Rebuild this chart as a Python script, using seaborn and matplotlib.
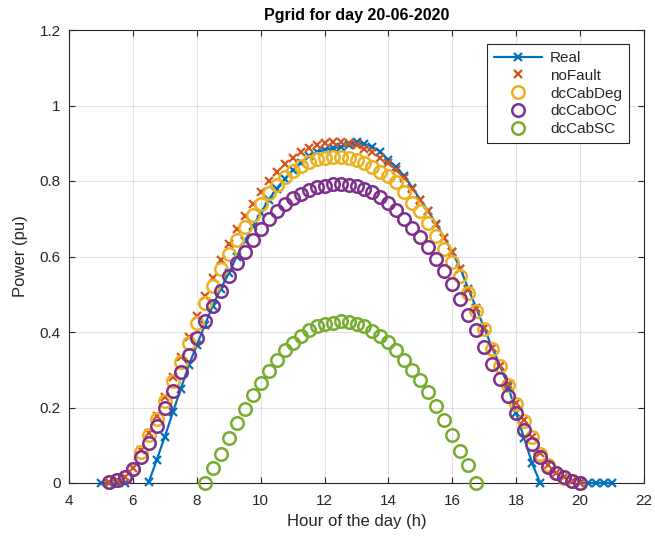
import numpy as np
import pandas as pd
import matplotlib
matplotlib.use("Agg")
import matplotlib.pyplot as plt
from matplotlib.lines import Line2D
import seaborn as sns

# ---------------- data ----------------
# Real (measured): three segments, 15-min samples
real_hours = [5.0, 5.25, 5.5, 5.75,
              6.5, 6.75, 7.0, 7.25, 7.5, 7.75, 8.0, 8.25, 8.5, 8.75,
              9.0, 9.25, 9.5, 9.75, 10.0, 10.25, 10.5, 10.75, 11.0, 11.25,
              11.5, 11.75, 12.0, 12.25, 12.5, 12.75, 13.0, 13.25, 13.5, 13.75,
              14.0, 14.25, 14.5, 14.75, 15.0, 15.25, 15.5, 15.75, 16.0, 16.25,
              16.5, 16.75, 17.0, 17.25, 17.5, 17.75, 18.0, 18.25, 18.5, 18.75,
              20.0, 20.25, 20.5, 20.75, 21.0]
real_power = [0.0, 0.0, 0.0, 0.0,
              0.003, 0.062, 0.123, 0.187, 0.250, 0.312, 0.365, 0.418, 0.470, 0.515,
              0.555, 0.600, 0.640, 0.680, 0.715, 0.750, 0.780, 0.805, 0.828, 0.848,
              0.865, 0.876, 0.883, 0.887, 0.890, 0.896, 0.902, 0.898, 0.890, 0.878,
              0.855, 0.836, 0.813, 0.782, 0.750, 0.720, 0.685, 0.650, 0.612, 0.568,
              0.515, 0.463, 0.410, 0.358, 0.310, 0.255, 0.185, 0.118, 0.052, 0.0,
              0.0, 0.0, 0.0, 0.0, 0.0]
real_segment = [0] * 4 + [1] * 50 + [2] * 5

# Simulated cases, 15-min samples from 5.25 h to 20.0 h
sim_hours = [5.25, 5.5, 5.75, 6.0, 6.25, 6.5, 6.75, 7.0, 7.25, 7.5, 7.75,
             8.0, 8.25, 8.5, 8.75, 9.0, 9.25, 9.5, 9.75, 10.0, 10.25, 10.5,
             10.75, 11.0, 11.25, 11.5, 11.75, 12.0, 12.25, 12.5, 12.75, 13.0,
             13.25, 13.5, 13.75, 14.0, 14.25, 14.5, 14.75, 15.0, 15.25, 15.5,
             15.75, 16.0, 16.25, 16.5, 16.75, 17.0, 17.25, 17.5, 17.75, 18.0,
             18.25, 18.5, 18.75, 19.0, 19.25, 19.5, 19.75, 20.0]
nofault_power = [0.003, 0.008, 0.017, 0.040, 0.087, 0.132, 0.177, 0.228, 0.282, 0.335, 0.388,
                 0.443, 0.495, 0.543, 0.592, 0.632, 0.672, 0.708, 0.740, 0.772, 0.800, 0.824,
                 0.845, 0.862, 0.876, 0.888, 0.896, 0.901, 0.903, 0.903, 0.900, 0.895,
                 0.886, 0.876, 0.862, 0.848, 0.830, 0.807, 0.778, 0.749, 0.720, 0.683,
                 0.650, 0.612, 0.567, 0.512, 0.460, 0.410, 0.358, 0.311, 0.262, 0.212,
                 0.167, 0.123, 0.080, 0.048, 0.027, 0.015, 0.006, 0.0]
dccabdeg_power = [0.003, 0.008, 0.016, 0.038, 0.083, 0.126, 0.169, 0.218, 0.270, 0.320, 0.371,
                  0.425, 0.476, 0.522, 0.567, 0.607, 0.645, 0.678, 0.710, 0.740, 0.767, 0.790,
                  0.810, 0.826, 0.840, 0.851, 0.858, 0.862, 0.864, 0.864, 0.861, 0.856,
                  0.848, 0.838, 0.825, 0.812, 0.797, 0.770, 0.743, 0.720, 0.688, 0.654,
                  0.620, 0.585, 0.548, 0.502, 0.456, 0.407, 0.356, 0.309, 0.260, 0.210,
                  0.165, 0.121, 0.078, 0.047, 0.026, 0.014, 0.006, 0.0]
dccaboc_power = [0.002, 0.008, 0.017, 0.036, 0.070, 0.107, 0.151, 0.198, 0.244, 0.293, 0.340,
                 0.385, 0.430, 0.470, 0.509, 0.548, 0.582, 0.613, 0.645, 0.673, 0.699, 0.720,
                 0.739, 0.754, 0.766, 0.776, 0.783, 0.788, 0.791, 0.792, 0.790, 0.786,
                 0.779, 0.770, 0.757, 0.742, 0.722, 0.700, 0.676, 0.652, 0.625, 0.594,
                 0.561, 0.526, 0.487, 0.446, 0.405, 0.360, 0.316, 0.275, 0.231, 0.185,
                 0.141, 0.103, 0.068, 0.042, 0.027, 0.016, 0.006, 0.0]

# Short-circuit case, 15-min samples from 8.25 h to 16.75 h
sc_hours = [8.25, 8.5, 8.75, 9.0, 9.25, 9.5, 9.75, 10.0, 10.25, 10.5, 10.75, 11.0,
            11.25, 11.5, 11.75, 12.0, 12.25, 12.5, 12.75, 13.0, 13.25, 13.5, 13.75,
            14.0, 14.25, 14.5, 14.75, 15.0, 15.25, 15.5, 15.75, 16.0, 16.25, 16.5, 16.75]
dccabsc_power = [0.0, 0.041, 0.076, 0.120, 0.158, 0.196, 0.232, 0.266, 0.298, 0.325, 0.351, 0.371,
                 0.390, 0.406, 0.416, 0.422, 0.425, 0.429, 0.427, 0.422, 0.415, 0.403, 0.389,
                 0.373, 0.353, 0.327, 0.300, 0.274, 0.240, 0.204, 0.167, 0.128, 0.085, 0.048, 0.0]

x_ticks = [4, 6, 8, 10, 12, 14, 16, 18, 20, 22]
y_ticks = [0, 0.2, 0.4, 0.6, 0.8, 1.0, 1.2]
y_tick_labels = ["0", "0.2", "0.4", "0.6", "0.8", "1", "1.2"]
series_names = ["Real", "noFault", "dcCabDeg", "dcCabOC", "dcCabSC"]

# ---------------- style ----------------
sns.set_style("ticks")
plt.rcParams["font.family"] = ["Liberation Sans", "DejaVu Sans"]

c_blue = "#0072BD"
c_orange = "#D95319"
c_yellow = "#EDB120"
c_purple = "#7E2F8E"
c_green = "#77AC30"
axis_col = "#262626"

fig = plt.figure(figsize=(6.55, 5.42), dpi=100)
ax = fig.add_axes([69 / 655, 59 / 542, 575 / 655, 453 / 542])

real_df = pd.DataFrame({"h": real_hours, "p": real_power, "seg": real_segment})
sim_df = pd.DataFrame({"h": sim_hours, "noFault": nofault_power,
                       "dcCabDeg": dccabdeg_power, "dcCabOC": dccaboc_power})
sc_df = pd.DataFrame({"h": sc_hours, "p": dccabsc_power})

sns.lineplot(data=real_df, x="h", y="p", units="seg", estimator=None, ax=ax,
             color=c_blue, linewidth=1.6, marker="x", markersize=6,
             markeredgewidth=1.6, markeredgecolor=c_blue, legend=False, clip_on=False,
             zorder=3)
sns.lineplot(data=sim_df, x="h", y="noFault", ax=ax, color=c_orange, linestyle="",
             marker="x", markersize=5.5, markeredgewidth=1.6, markeredgecolor=c_orange,
             legend=False, clip_on=False, zorder=4)
sns.lineplot(data=sim_df, x="h", y="dcCabDeg", ax=ax, color=c_yellow, linestyle="",
             marker="o", markersize=9, markerfacecolor="none", markeredgewidth=1.8,
             markeredgecolor=c_yellow, legend=False, clip_on=False, zorder=5)
sns.lineplot(data=sim_df, x="h", y="dcCabOC", ax=ax, color=c_purple, linestyle="",
             marker="o", markersize=9, markerfacecolor="none", markeredgewidth=1.8,
             markeredgecolor=c_purple, legend=False, clip_on=False, zorder=6)
sns.lineplot(data=sc_df, x="h", y="p", ax=ax, color=c_green, linestyle="",
             marker="o", markersize=9, markerfacecolor="none", markeredgewidth=1.8,
             markeredgecolor=c_green, legend=False, clip_on=False, zorder=7)

ax.set_xlim(4, 22)
ax.set_ylim(0, 1.2)
ax.set_xticks(x_ticks)
ax.set_xticklabels([str(t) for t in x_ticks])
ax.set_yticks(y_ticks)
ax.set_yticklabels(y_tick_labels)
ax.grid(True, color="#262626", alpha=0.13, linewidth=0.8)
ax.set_axisbelow(True)
for s in ax.spines.values():
    s.set_visible(True)
    s.set_color(axis_col)
    s.set_linewidth(0.8)
    s.set_zorder(2.5)
ax.tick_params(direction="in", length=4, width=0.8, colors=axis_col,
               labelsize=11, top=True, right=True)
ax.tick_params(axis="x", pad=8)
ax.tick_params(axis="y", pad=6)
for lab in ax.get_xticklabels() + ax.get_yticklabels():
    lab.set_color("#262626")

ax.set_xlabel("Hour of the day (h)", fontsize=12, color="#262626", labelpad=4)
ax.set_ylabel("Power (pu)", fontsize=12, color="#262626", labelpad=8)
ax.set_title("Pgrid for day 20-06-2020", fontsize=11.5, fontweight="bold",
             color="black", pad=7)

handles = [
    Line2D([], [], color=c_blue, linewidth=1.6, marker="x", markersize=6,
           markeredgewidth=1.6),
    Line2D([], [], color=c_orange, linestyle="", marker="x", markersize=5.5,
           markeredgewidth=1.6),
    Line2D([], [], color=c_yellow, linestyle="", marker="o", markersize=9,
           markerfacecolor="none", markeredgewidth=1.8),
    Line2D([], [], color=c_purple, linestyle="", marker="o", markersize=9,
           markerfacecolor="none", markeredgewidth=1.8),
    Line2D([], [], color=c_green, linestyle="", marker="o", markersize=9,
           markerfacecolor="none", markeredgewidth=1.8),
]
leg = ax.legend(handles, series_names, loc="upper right",
                bbox_to_anchor=(629 / 655, 1 - 44 / 542), bbox_transform=fig.transFigure,
                fontsize=11, frameon=True, fancybox=False, framealpha=1,
                edgecolor="#262626", handlelength=3.2, handletextpad=0.5,
                labelspacing=0.25, borderpad=0.45, borderaxespad=0)
leg.get_frame().set_linewidth(0.8)
leg.set_zorder(10)

fig.savefig("out.png", dpi=100, facecolor="white")
